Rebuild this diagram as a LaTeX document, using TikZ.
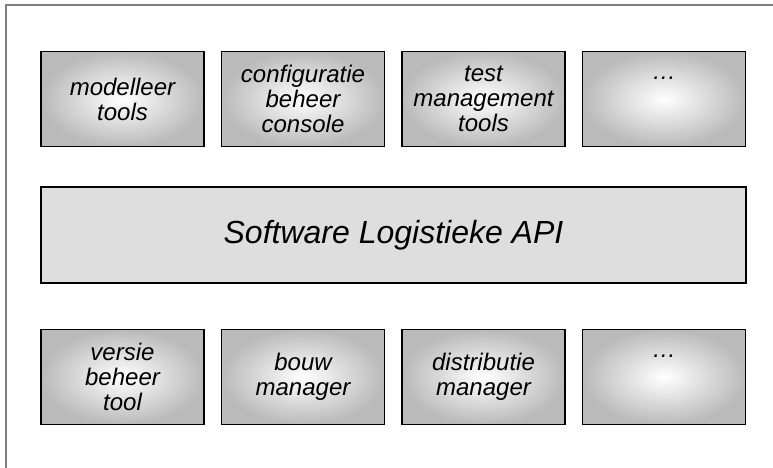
\documentclass[tikz,border=0pt]{standalone}
\usepackage{fontspec}
\setmainfont{Liberation Sans}
\usepackage{tikz}

\definecolor{toolgray}{HTML}{BABABA}
\definecolor{apigray}{HTML}{DEDEDE}
\definecolor{framegray}{HTML}{808080}

\tikzset{
    toolbox/.style={rectangle, draw=black, line width=1.2pt, inner color=white, outer color=toolgray,
        minimum width=163pt, minimum height=95pt, inner sep=0pt, align=center,
        font=\fontsize{24}{25}\selectfont\itshape},
    apibox/.style={rectangle, draw=black, line width=1.2pt, fill=apigray,
        minimum width=705pt, minimum height=96pt, inner sep=0pt,
        font=\fontsize{32}{34}\selectfont\itshape}
}

\begin{document}
\begin{tikzpicture}[x=1pt, y=-1pt]
            \useasboundingbox (0,0) rectangle (773,468);
            % Frame
            \draw[framegray, line width=2pt] (5.5,470) -- (5.5,5) -- (775,5);
            % Top row
            \foreach \name/\i in {modelleer\\tools/1,configuratie\\beheer\\console/2,test\\management\\tools/3,\strut\ldots\\\strut\\\strut/4} {
                \node[toolbox] (Top-\i) at (122.5+180.5*\i-180.5,99) {\name};
            }
            % API layer
            \node[apibox] (API) at (393.5,235) {Software Logistieke API};
            % Bottom row
            \foreach \name/\i in {versie\\beheer\\tool/1,bouw\\manager/2,distributie\\manager/3,\strut\ldots\\\strut\\\strut/4} {
                \node[toolbox] (Bottom-\i) at (122.5+180.5*\i-180.5,377) {\name};
            }
\end{tikzpicture}
\end{document}
